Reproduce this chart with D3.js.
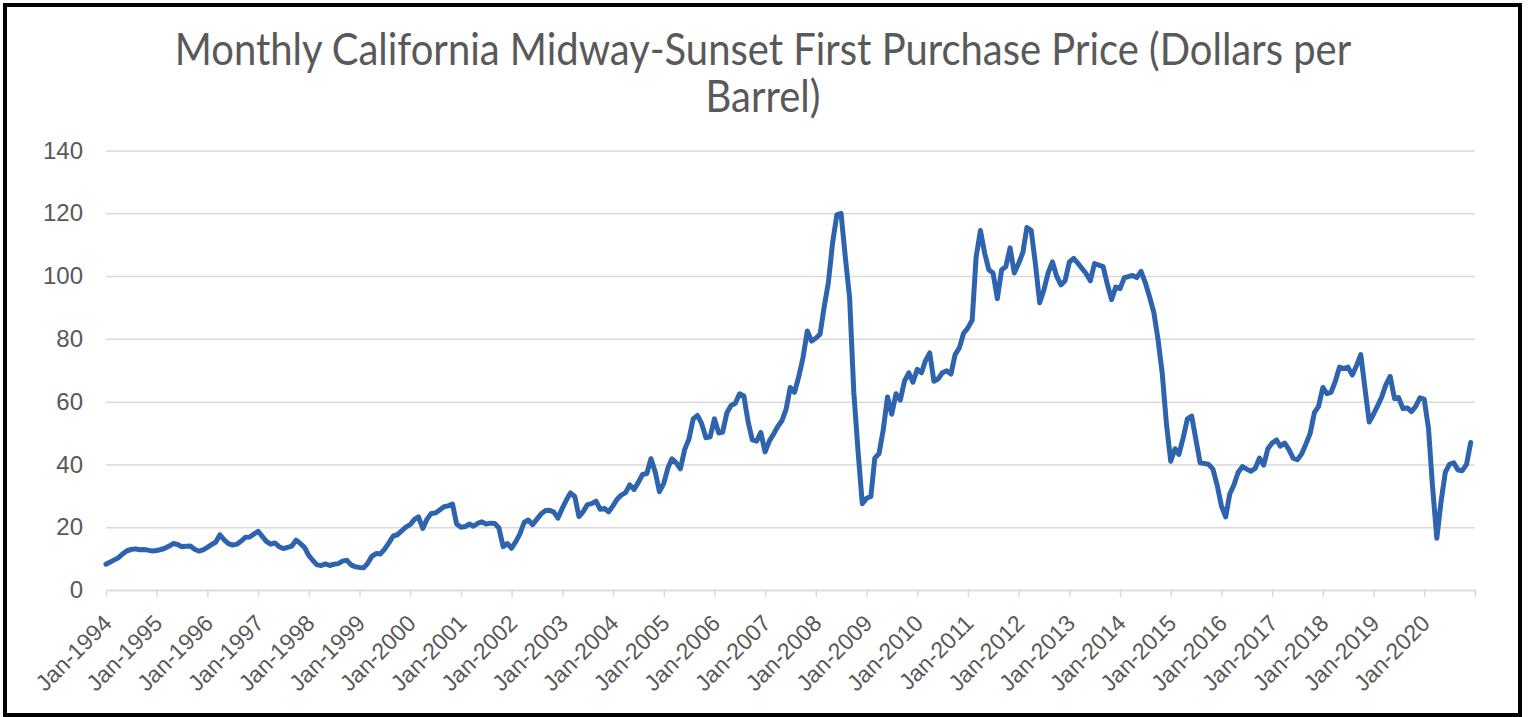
<!DOCTYPE html>
<html>
<head>
<meta charset="utf-8">
<script src="https://cdn.jsdelivr.net/npm/d3@7"></script>
<style>
  body { margin: 0; background: #fff; }
  svg { display: block; font-family: Lato, "Open Sans", sans-serif; }
</style>
</head>
<body>
<script>
// monthly first purchase price, Jan 1994 - Dec 2020, one row per year
var startYear = 1994, endYear = 2021;
var prices = [
  8.2, 8.9, 9.6, 10.3, 11.5, 12.5, 12.9, 13.1, 12.8, 12.9, 12.7, 12.4,
  12.6, 12.9, 13.3, 14.0, 14.8, 14.5, 13.8, 13.9, 14.0, 13.0, 12.4, 12.8,
  13.6, 14.5, 15.2, 17.6, 16.0, 14.8, 14.3, 14.6, 15.6, 16.8, 16.9, 17.8,
  18.7, 17.0, 15.5, 14.6, 15.0, 13.8, 13.2, 13.6, 14.0, 15.9, 14.8, 13.6,
  11.0, 9.3, 8.0, 7.8, 8.3, 7.8, 8.2, 8.4, 9.2, 9.5, 8.0, 7.4,
  7.2, 7.1, 8.5, 10.8, 11.6, 11.5, 13.0, 15.0, 17.2, 17.6, 18.8, 20.0,
  20.8, 22.5, 23.3, 19.6, 22.5, 24.4, 24.5, 25.5, 26.5, 26.8, 27.4, 21.0,
  20.0, 20.2, 21.0, 20.3, 21.2, 21.7, 21.0, 21.3, 21.2, 19.8, 13.8, 14.8,
  13.3, 15.5, 17.8, 21.5, 22.3, 20.8, 22.5, 24.2, 25.3, 25.4, 24.8, 22.9,
  26.0, 28.8, 30.9, 29.8, 23.4, 25.0, 27.2, 27.5, 28.3, 25.7, 26.0, 24.9,
  26.8, 29.0, 30.2, 31.0, 33.5, 32.0, 34.2, 36.8, 37.1, 41.8, 37.5, 31.3,
  34.0, 39.0, 41.8, 40.5, 38.6, 44.8, 48.0, 54.5, 55.6, 53.0, 48.5, 48.8,
  54.5, 50.0, 50.3, 56.5, 58.8, 59.5, 62.5, 61.8, 53.5, 47.8, 47.4, 50.2,
  44.0, 47.5, 49.5, 52.0, 53.8, 57.5, 64.5, 63.0, 68.0, 74.0, 82.5, 79.3,
  80.2, 81.5, 90.0, 98.0, 110.5, 119.5, 120.0, 106.0, 93.0, 63.0, 44.0, 27.5,
  29.2, 29.8, 42.0, 43.5, 51.0, 61.5, 56.0, 62.5, 60.5, 66.5, 69.2, 66.2,
  70.3, 69.2, 73.0, 75.5, 66.5, 67.3, 69.2, 69.8, 68.8, 75.0, 77.2, 81.8,
  83.5, 86.0, 106.0, 114.5, 107.5, 102.0, 101.0, 92.8, 102.0, 103.0, 109.0, 101.0,
  104.0, 107.5, 115.5, 114.5, 104.0, 91.5, 95.5, 101.0, 104.5, 100.0, 97.2, 98.5,
  104.5, 105.6, 104.2, 102.5, 100.8, 98.5, 104.0, 103.5, 103.0, 97.5, 92.5, 96.5,
  96.0, 99.5, 99.8, 100.2, 99.5, 101.5, 98.0, 93.5, 88.5, 80.0, 69.0, 53.0,
  41.0, 45.0, 43.2, 48.5, 54.5, 55.4, 48.0, 40.5, 40.3, 40.0, 38.5, 33.5,
  26.8, 23.3, 30.5, 33.5, 37.5, 39.3, 38.5, 37.8, 38.8, 42.0, 39.8, 45.0,
  46.8, 47.8, 45.8, 46.8, 44.8, 42.0, 41.5, 43.3, 46.5, 49.8, 56.5, 58.5,
  64.5, 62.5, 63.0, 66.5, 71.0, 70.5, 71.0, 68.5, 71.5, 75.0, 64.0, 53.5,
  56.0, 58.8, 61.5, 65.5, 68.0, 61.0, 61.3, 57.8, 58.0, 56.8, 58.5, 61.2,
  60.8, 51.5, 33.0, 16.5, 28.0, 37.5, 40.0, 40.5, 38.2, 38.0, 40.0, 47.0
];
var yTicks = [0, 20, 40, 60, 80, 100, 120, 140];
var titleLines = ["Monthly California Midway-Sunset First Purchase Price (Dollars per", "Barrel)"];

var w = 1532, h = 717;
// plot edges (not "top": that name is taken by window.top)
var plotLeft = 106, plotRight = 1475, plotTop = 150.5, plotBottom = 590;

var svg = d3.select("body").append("svg")
    .attr("width", w)
    .attr("height", h);

// chart frame
svg.append("rect")
    .attr("x", 5).attr("y", 5)
    .attr("width", 1515).attr("height", 710)
    .attr("fill", "#fff")
    .attr("stroke", "#000")
    .attr("stroke-width", 4);

var data = prices.map(function(d, i){
    return { date: new Date(startYear, i, 1), value: d };
});

var x = d3.scaleTime()
    .domain([new Date(startYear, 0, 1), new Date(endYear, 0, 1)])
    .range([plotLeft, plotRight]);

var y = d3.scaleLinear()
    .domain([0, 140])
    .range([plotBottom, plotTop]);

// y axis with gridlines
var yAxis = svg.append("g")
    .attr("transform", "translate(" + plotLeft + ",0)")
    .call(d3.axisLeft(y)
        .tickValues(yTicks)
        .tickSize(-(plotRight - plotLeft))
        .tickPadding(23));
yAxis.select(".domain").remove();
yAxis.selectAll("line")
    .attr("stroke", "#d9d9d9")
    .attr("stroke-width", 1.5);
yAxis.selectAll("text")
    .attr("fill", "#595959")
    .style("font-size", "24px");

// x axis, one tick per January
var years = d3.range(startYear, endYear + 1).map(function(yr){ return new Date(yr, 0, 1); });
var xAxis = svg.append("g")
    .attr("transform", "translate(0," + plotBottom + ")")
    .call(d3.axisBottom(x)
        .tickValues(years)
        .tickSize(7)
        .tickSizeOuter(0)
        .tickFormat(function(d){
            return d.getFullYear() < endYear ? "Jan-" + d.getFullYear() : "";
        }));
xAxis.select(".domain")
    .attr("stroke", "#d9d9d9")
    .attr("stroke-width", 1.5);
xAxis.selectAll("line")
    .attr("stroke", "#d9d9d9")
    .attr("stroke-width", 1.5);
xAxis.selectAll("text")
    .attr("fill", "#595959")
    .style("font-size", "23px")
    .attr("text-anchor", "end")
    .attr("x", 0)
    .attr("y", 0)
    .attr("dy", "0.35em")
    .attr("transform", "translate(1,29) rotate(-45)");

// price line
var line = d3.line()
    .x(function(d){ return x(d.date); })
    .y(function(d){ return y(d.value); });

svg.append("path")
    .datum(data)
    .attr("fill", "none")
    .attr("stroke", "#2e63ad")
    .attr("stroke-width", 5)
    .attr("stroke-linejoin", "round")
    .attr("stroke-linecap", "round")
    .attr("d", line);

// title, squeezed to the width it has in the original
var title = svg.append("g");
var t1 = title.append("text")
    .attr("x", 763).attr("y", 65)
    .attr("text-anchor", "middle")
    .attr("fill", "#595959")
    .style("font-size", "44px")
    .text(titleLines[0]);
var sx = 1177 / t1.node().getComputedTextLength();
title.append("text")
    .attr("x", 763).attr("y", 112.5)
    .attr("text-anchor", "middle")
    .attr("fill", "#595959")
    .style("font-size", "44px")
    .text(titleLines[1]);
title.attr("transform", "translate(763,0) scale(" + sx + ",1) translate(-763,0)");
</script>
</body>
</html>
